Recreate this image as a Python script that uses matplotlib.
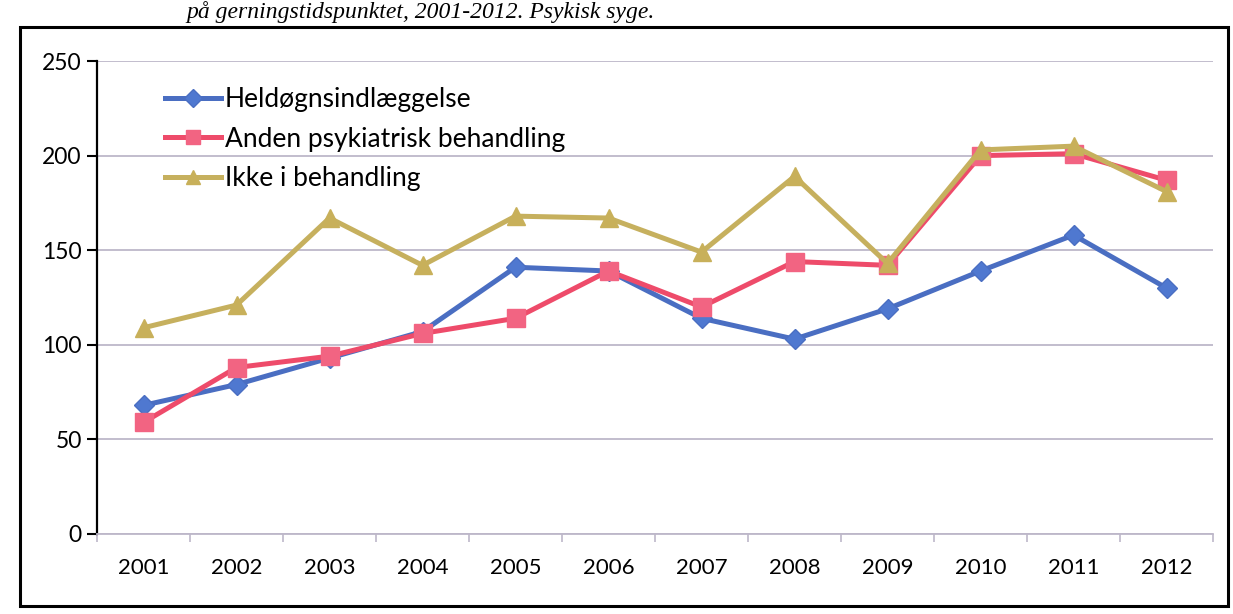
import numpy as np
import matplotlib.pyplot as plt
from matplotlib.patches import Rectangle
from matplotlib.ticker import FixedLocator

# data
years = ["2001", "2002", "2003", "2004", "2005", "2006",
         "2007", "2008", "2009", "2010", "2011", "2012"]
heldogn = [68, 79, 93, 107, 141, 139, 114, 103, 119, 139, 158, 130]
anden = [59, 88, 94, 106, 114, 139, 120, 144, 142, 200, 201, 187]
ikke = [109, 121, 167, 142, 168, 167, 149, 189, 143, 203, 205, 181]

labels = ["Heldøgnsindlæggelse", "Anden psykiatrisk behandling", "Ikke i behandling"]
yticks = [0, 50, 100, 150, 200, 250]

plt.rcParams['font.family'] = ['Lato', 'DejaVu Sans']

fig = plt.figure(figsize=(12.33, 6.14), dpi=100)
W, H = 1233, 614

# outer frame of the scanned chart
fig.patches.append(Rectangle((20 / W, 1 - 606 / H), 1208 / W, 579 / H,
                             transform=fig.transFigure, fill=False,
                             edgecolor='black', lw=2.2))

# caption above the frame (cut off in the scan)
fig.text(186 / W, 1 - 1 / H, "på gerningstidspunktet, 2001-2012. Psykisk syge.",
         family='Liberation Serif', style='italic', fontsize=17,
         va='top', ha='left')

ax = fig.add_axes([97 / W, 1 - 534 / H, 1116 / W, 473 / H])
x = np.arange(len(years))

ax.plot(x, heldogn, color='#4A6EC2', lw=3.6, marker='D', ms=10.5,
        mfc='#4F78D0', mec='#4A6EC2', label=labels[0], zorder=3)
ax.plot(x, anden, color='#EE4B6A', lw=3.6, marker='s', ms=12.5,
        mfc='#F26482', mec='#F26482', label=labels[1], zorder=3)
ax.plot(x, ikke, color='#C6B05E', lw=3.6, marker='^', ms=12.5,
        mfc='#C8B05A', mec='#C8B05A', label=labels[2], zorder=3)

ax.set_xlim(-0.5, len(years) - 0.5)
ax.set_ylim(0, 250)
ax.set_yticks(yticks)
ax.set_yticklabels([str(v) for v in yticks])
ax.yaxis.grid(True, color='#BDB7C9', lw=1.3)
ax.set_axisbelow(True)

ax.set_xticks(x)
ax.set_xticklabels(years)
ax.xaxis.set_minor_locator(FixedLocator(np.arange(-0.5, len(years), 1.0)))
ax.tick_params(axis='x', which='major', length=0, pad=17, labelsize=16)
ax.tick_params(axis='x', which='minor', length=6, width=1.2, color='#BDB7C9')
ax.tick_params(axis='y', length=7, width=1.5, pad=4, labelsize=16.5)

for s in ['top', 'right']:
    ax.spines[s].set_visible(False)
ax.spines['left'].set_linewidth(1.6)
ax.spines['bottom'].set_color('#BDB7C9')
ax.spines['bottom'].set_linewidth(1.3)

leg = ax.legend(loc='upper left', bbox_to_anchor=(0.04, 0.995), frameon=False,
                fontsize=19, handlelength=2.1, handletextpad=0.15,
                labelspacing=0.55, markerscale=0.85)

fig.savefig("out.png", dpi=100)
